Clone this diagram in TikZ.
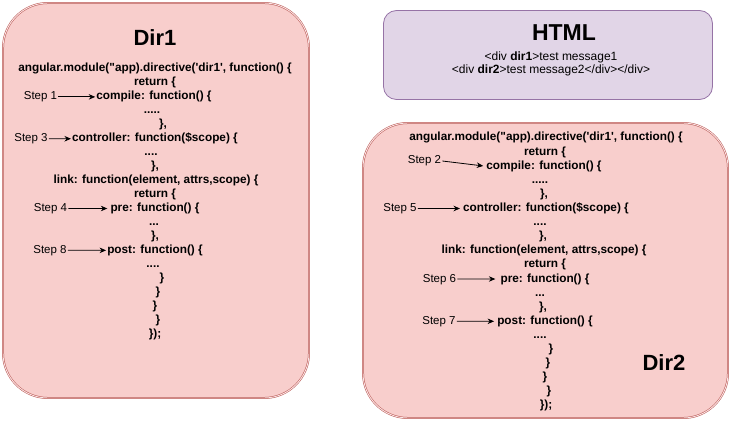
\documentclass[tikz,border=0pt]{standalone}
\usepackage{fontspec}
\newfontfamily\arial{Liberation Sans}
\usetikzlibrary{arrows.meta}
\definecolor{dirfill}{HTML}{F8CECC}
\definecolor{dirline}{HTML}{B85450}
\definecolor{htmlfill}{HTML}{E1D5E7}
\definecolor{htmlline}{HTML}{9673A6}
\tikzset{
  dirbox/.style={draw=dirline, fill=dirfill, line width=0.5pt,
    double=dirfill!50!white, double distance=0.9pt, rounded corners=45pt},
  htmlbox/.style={draw=htmlline, fill=htmlfill, line width=0.8pt, rounded corners=13pt},
  title/.style={font=\arial\bfseries\fontsize{22}{26}\selectfont, inner sep=0pt},
  code/.style={font=\arial\bfseries\fontsize{11.8}{14}\selectfont, anchor=base,
    inner sep=1pt, text height=8.5pt, text depth=2.5pt},
  steplabel/.style={font=\arial\fontsize{11.5}{14}\selectfont, anchor=base,
    inner sep=1pt, text height=8.5pt, text depth=2.5pt},
  steparrow/.style={-{Stealth[length=6.5pt,width=5.5pt]}, line width=0.8pt},
}
\begin{document}
\begin{tikzpicture}[x=1pt,y=-1pt]
        \useasboundingbox (0,0) rectangle (731,422);
        %% boxes
        \draw[dirbox] (3,3) rectangle (309,398);
        \draw[htmlbox] (383.5,10.5) rectangle (712.5,99.5);
        \draw[dirbox] (363,123) rectangle (728,418);
        %% titles
        \node[title] (dir1) at (155,38) {Dir1};
        \node[title,font=\arial\bfseries\fontsize{23}{26}\selectfont] (html) at (564,33) {HTML};
        \node[title] (dir2) at (664,363) {Dir2};
        \node[font=\arial\fontsize{12}{13}\selectfont, align=center, inner sep=0pt] (markup) at (551,64)
            {<div \textbf{dir1}>test message1\\<div \textbf{dir2}>test message2</div></div>};
        %% Dir1 code
        \foreach \i/\x/\t in {1/155/{{angular.module("app).directive('dir1', function() \{}},
            2/155/{{return \{}}, 3/154/{{compile: function() \{}}, 4/152/{{.....}}, 5/163/{{\},}},
            6/155/{{controller: function(\$scope) \{}}, 7/151/{{....}}, 8/155/{{\},}},
            9/156/{{link: function(element, attrs,scope) \{}}, 10/155/{{return \{}},
            11/155/{{pre: function() \{}}, 12/154/{{...}}, 13/155/{{\},}},
            14/155/{{post: function() \{}}, 15/153/{{....}}, 16/162/{{\}}}, 17/158/{{\}}},
            18/155/{{\}}}, 19/158/{{\}}}, 20/155/{{\});}}}
            \node[code] (a\i) at (\x,{72+13.95*(\i-1)}) {\t};
        %% Dir2 code
        \foreach \i/\x/\t in {1/546/{{angular.module("app).directive('dir1', function() \{}},
            2/545/{{return \{}}, 3/544/{{compile: function() \{}}, 4/540/{{.....}}, 5/544/{{\},}},
            6/546/{{controller: function(\$scope) \{}}, 7/540/{{....}}, 8/543/{{\},}},
            9/544/{{link: function(element, attrs,scope) \{}}, 10/545/{{return \{}},
            11/545/{{pre: function() \{}}, 12/540/{{...}}, 13/543/{{\},}},
            14/545/{{post: function() \{}}, 15/540/{{....}}, 16/551/{{\}}}, 17/548/{{\}}},
            18/545/{{\}}}, 19/549/{{\}}}, 20/546/{{\});}}}
            \node[code] (b\i) at (\x,{141+14.1*(\i-1)}) {\t};
        %% steps
        \node[steplabel] (s1) at (40.5,99.9) {Step 1};
        \node[steplabel] (s3) at (31,141.75) {Step 3};
        \node[steplabel] (s4) at (50.5,211.5) {Step 4};
        \node[steplabel] (s8) at (50,253.35) {Step 8};
        \node[steplabel] (s2) at (424.5,164) {Step 2};
        \node[steplabel] (s5) at (400,211.5) {Step 5};
        \node[steplabel] (s6) at (439.5,282) {Step 6};
        \node[steplabel] (s7) at (439,324.3) {Step 7};
        \foreach \s/\l/\g in {s1/a3/0pt, s3/a6/0pt, s4/a11/2pt, s8/a14/0pt,
            s2/b3/2pt, s5/b6/2pt, s6/b11/4pt, s7/b14/2pt}
            \draw[steparrow, shorten >=\g] (\s.east) -- (\l.west);
\end{tikzpicture}
\end{document}
